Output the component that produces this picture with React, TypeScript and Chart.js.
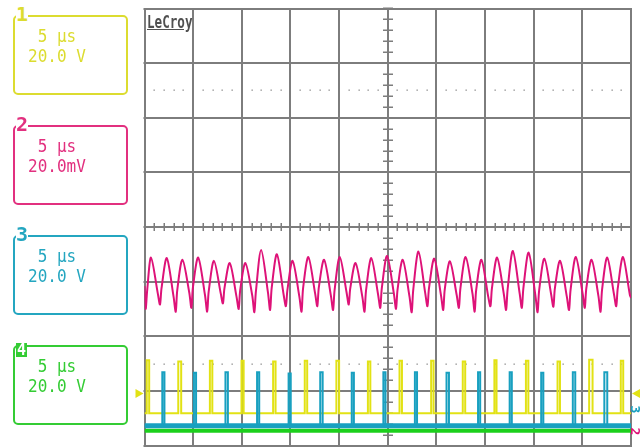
import React, { useEffect, useRef } from "react";
import { Chart, registerables } from "chart.js";
Chart.register(...registerables);

// ---- axes (time in µs, 5 µs/div; vertical in divisions) ----
const timeMin = 0;
const timeMax = 50;
const divMin = -4;
const divMax = 4;
const gridTimes = [0, 5, 10, 15, 20, 25, 30, 35, 40, 45, 50];
const gridDivs = [-4, -3, -2, -1, 0, 1, 2, 3, 4];
const centerTime = 25;
const centerDiv = 0;
const dottedLevels = [2.5, -2.5];

// ---- channel 2 (magenta) vertices ----
const ch2T = [
  0, 0.12, 0.28,
  0.67, 1.37, 1.59, 1.75,
  2.29, 2.99, 3.21, 3.37,
  3.9, 4.6, 4.82, 4.98,
  5.52, 6.22, 6.44, 6.6,
  7.14, 7.84, 8.06, 8.22,
  8.76, 9.46, 9.68, 9.84,
  10.37, 11.07, 11.29, 11.45,
  11.99, 12.69, 12.91, 13.07,
  13.61, 14.31, 14.53, 14.69,
  15.22, 15.92, 16.14, 16.3,
  16.84, 17.54, 17.76, 17.92,
  18.46, 19.16, 19.38, 19.54,
  20.07, 20.77, 20.99, 21.15,
  21.69, 22.39, 22.61, 22.77,
  23.31, 24.01, 24.23, 24.39,
  24.93, 25.63, 25.85, 26.01,
  26.54, 27.24, 27.46, 27.62,
  28.16, 28.86, 29.08, 29.24,
  29.78, 30.48, 30.7, 30.86,
  31.39, 32.09, 32.31, 32.47,
  33.01, 33.71, 33.93, 34.09,
  34.63, 35.33, 35.55, 35.71,
  36.24, 36.94, 37.16, 37.32,
  37.86, 38.56, 38.78, 38.94,
  39.48, 40.18, 40.4, 40.56,
  41.1, 41.8, 42.02, 42.18,
  42.71, 43.41, 43.63, 43.79,
  44.33, 45.03, 45.25, 45.41,
  45.95, 46.65, 46.87, 47.03,
  47.56, 48.26, 48.48, 48.64,
  49.18, 49.88, 50,
];
const ch2V = [
  -1.08, -1.5, -1.15,
  -0.56, -1.22, -1.42, -1.12,
  -0.57, -1.28, -1.55, -1.15,
  -0.6, -1.2, -1.48, -1.1,
  -0.56, -1.25, -1.55, -1.18,
  -0.62, -1.22, -1.4, -1.12,
  -0.66, -1.28, -1.5, -1.15,
  -0.66, -1.25, -1.56, -1.18,
  -0.42, -1.2, -1.52, -1.12,
  -0.5, -1.25, -1.45, -1.15,
  -0.62, -1.28, -1.55, -1.12,
  -0.55, -1.22, -1.45, -1.1,
  -0.6, -1.26, -1.52, -1.15,
  -0.55, -1.2, -1.42, -1.12,
  -0.66, -1.28, -1.55, -1.16,
  -0.57, -1.24, -1.48, -1.12,
  -0.53, -1.22, -1.5, -1.14,
  -0.6, -1.28, -1.56, -1.15,
  -0.45, -1.22, -1.45, -1.12,
  -0.58, -1.26, -1.52, -1.14,
  -0.63, -1.25, -1.48, -1.12,
  -0.55, -1.22, -1.55, -1.15,
  -0.6, -1.28, -1.45, -1.12,
  -0.56, -1.24, -1.52, -1.14,
  -0.44, -1.22, -1.48, -1.12,
  -0.47, -1.26, -1.56, -1.16,
  -0.58, -1.24, -1.46, -1.12,
  -0.62, -1.28, -1.52, -1.15,
  -0.55, -1.22, -1.48, -1.12,
  -0.6, -1.26, -1.55, -1.14,
  -0.56, -1.24, -1.45, -1.12,
  -0.55, -1.24, -1.3,
];

// ---- channel 1 (yellow) pulses ----
const ch1PulseT = [0.23, 3.47, 6.72, 9.97, 13.22, 16.47, 19.72, 22.96, 26.21, 29.46, 32.71, 35.96, 39.2, 42.45, 45.7, 48.95];
const ch1PulseTop = [-2.44, -2.46, -2.45, -2.45, -2.46, -2.45, -2.45, -2.46, -2.45, -2.45, -2.46, -2.44, -2.45, -2.46, -2.43, -2.45];
const ch1PulseW = [0.25, 0.3, 0.25, 0.22, 0.25, 0.25, 0.28, 0.25, 0.25, 0.25, 0.25, 0.22, 0.25, 0.25, 0.35, 0.25];
const ch1Base = -3.41;

// ---- channel 3 (teal) pulses ----
const ch3PulseT = [1.83, 5.08, 8.32, 11.57, 14.81, 18.06, 21.3, 24.55, 27.79, 31.04, 34.28, 37.53, 40.77, 44.02, 47.26];
const ch3PulseTop = [-2.66, -2.67, -2.66, -2.66, -2.68, -2.66, -2.67, -2.66, -2.66, -2.67, -2.66, -2.66, -2.67, -2.66, -2.66];
const ch3PulseW = [0.22, 0.22, 0.25, 0.22, 0.22, 0.25, 0.22, 0.22, 0.22, 0.25, 0.22, 0.22, 0.22, 0.25, 0.3];
const ch3Base = -3.64;

// ---- channel 4 (green) ----
const ch4Level = -3.73;

// ---- markers ----
const ch1MarkerDiv = -3.05;

// ---- panel texts ----
const channelIds = ["1", "2", "3", "4"];
const channelTimeDiv = [" 5 µs", " 5 µs", " 5 µs", " 5 µs"];
const channelVoltDiv = ["20.0 V", "20.0mV", "20.0 V", "20.0 V"];
const panelColors = ["#dcdc30", "#e2307f", "#24a6c0", "#34cc34"];

const yellow = "rgb(226,226,20)";
const magenta = "rgb(222,18,120)";
const teal = "rgb(24,160,192)";
const green = "rgb(28,208,28)";

function pulsePoints(times: number[], tops: number[], widths: number[], base: number) {
  const pts: { x: number; y: number }[] = [{ x: timeMin, y: base }];
  times.forEach((t, i) => {
    pts.push({ x: t, y: base });
    pts.push({ x: t, y: tops[i] });
    pts.push({ x: t + widths[i], y: tops[i] });
    pts.push({ x: t + widths[i], y: base });
  });
  pts.push({ x: timeMax, y: base });
  return pts;
}

const gridPlugin = {
  id: "scopeGrid",
  beforeDatasetsDraw(chart: any) {
    const { ctx, chartArea, scales } = chart;
    const xs = scales.x;
    const ys = scales.y;
    ctx.save();
    ctx.strokeStyle = "#7d7d7d";
    ctx.lineWidth = 2;
    ctx.beginPath();
    for (const t of gridTimes) {
      const px = Math.round(xs.getPixelForValue(t));
      ctx.moveTo(px, chartArea.top);
      ctx.lineTo(px, chartArea.bottom);
    }
    for (const d of gridDivs) {
      const py = Math.round(ys.getPixelForValue(d));
      ctx.moveTo(chartArea.left - 1, py);
      ctx.lineTo(chartArea.right + 1, py);
    }
    ctx.stroke();

    // centre cross ticks
    const cx = Math.round(xs.getPixelForValue(centerTime));
    const cy = Math.round(ys.getPixelForValue(centerDiv));
    ctx.lineWidth = 1.5;
    ctx.beginPath();
    for (let d = divMin; d <= divMax + 1e-6; d += 0.2) {
      const py = Math.round(ys.getPixelForValue(d)) + 0.25;
      ctx.moveTo(cx - 5, py);
      ctx.lineTo(cx + 5, py);
    }
    for (let t = timeMin; t <= timeMax + 1e-6; t += 1) {
      const px = Math.round(xs.getPixelForValue(t)) + 0.25;
      ctx.moveTo(px, cy - 4);
      ctx.lineTo(px, cy + 4);
    }
    ctx.stroke();

    // dotted levels
    ctx.fillStyle = "#8a8a8a";
    for (const lv of dottedLevels) {
      const py = Math.round(ys.getPixelForValue(lv));
      for (let t = timeMin + 1; t < timeMax; t += 1) {
        if (Math.abs(t / 5 - Math.round(t / 5)) < 1e-6) continue;
        const px = Math.round(xs.getPixelForValue(t));
        ctx.fillRect(px - 0.5, py - 0.5, 1.3, 1.3);
      }
    }
    ctx.restore();
  },
  afterDatasetsDraw(chart: any) {
    const { ctx, chartArea, scales } = chart;
    const py = scales.y.getPixelForValue(ch1MarkerDiv);
    ctx.save();
    ctx.fillStyle = yellow;
    ctx.beginPath();
    ctx.moveTo(chartArea.left - 9, py - 4.5);
    ctx.lineTo(chartArea.left - 1, py);
    ctx.lineTo(chartArea.left - 9, py + 4.5);
    ctx.closePath();
    ctx.fill();
    ctx.beginPath();
    ctx.moveTo(chartArea.right + 9, py - 4.5);
    ctx.lineTo(chartArea.right + 1, py);
    ctx.lineTo(chartArea.right + 9, py + 4.5);
    ctx.closePath();
    ctx.fill();
    ctx.restore();
  },
};

export default function App() {
  const canvasRef = useRef<HTMLCanvasElement | null>(null);

  useEffect(() => {
    const canvas = canvasRef.current;
    if (!canvas) return;
    const ch2 = ch2T.map((t, i) => ({ x: t, y: ch2V[i] }));
    const ch1 = pulsePoints(ch1PulseT, ch1PulseTop, ch1PulseW, ch1Base);
    const ch3 = pulsePoints(ch3PulseT, ch3PulseTop, ch3PulseW, ch3Base);
    const ch4 = [{ x: timeMin, y: ch4Level }, { x: timeMax, y: ch4Level }];
    const ch3Band = [{ x: timeMin, y: ch3Base }, { x: timeMax, y: ch3Base }];

    const chart = new Chart(canvas, {
      type: "line",
      data: {
        datasets: [
          { label: "C3", data: ch3, borderColor: teal, borderWidth: 2, order: 1, tension: 0 },
          { label: "C3 band", data: ch3Band, borderColor: teal, borderWidth: 5, order: 2, tension: 0 },
          { label: "C1", data: ch1, borderColor: yellow, borderWidth: 2, order: 3, tension: 0 },
          { label: "C4", data: ch4, borderColor: green, borderWidth: 4, order: 4, tension: 0 },
          { label: "C2", data: ch2, borderColor: magenta, borderWidth: 2, order: 5, tension: 0.3, borderJoinStyle: "round" },
        ] as any,
      },
      options: {
        animation: false,
        responsive: false,
        maintainAspectRatio: false,
        devicePixelRatio: 1,
        layout: { padding: { left: 144.5, right: 12, top: 8.5, bottom: 1.5 } },
        elements: { point: { radius: 0 }, line: { borderJoinStyle: "miter" } },
        plugins: { legend: { display: false }, tooltip: { enabled: false }, title: { display: false } },
        scales: {
          x: { type: "linear", min: timeMin, max: timeMax, display: false },
          y: { type: "linear", min: divMin, max: divMax, display: false },
        },
      } as any,
      plugins: [gridPlugin],
    });
    return () => chart.destroy();
  }, []);

  const mono = "'DejaVu Sans Mono', monospace";

  return (
    <div style={{ position: "absolute", left: 0, top: 0, width: 643, height: 447, background: "#fff", overflow: "hidden" }}>
      <canvas ref={canvasRef} width={643} height={447} style={{ position: "absolute", left: 0, top: 0, width: 643, height: 447 }} />
      {channelIds.map((id, i) => {
        const top = 15 + 110 * i;
        const c = panelColors[i];
        const inverse = i === 3;
        return (
          <React.Fragment key={id}>
            <div style={{ position: "absolute", left: 13, top, width: 111, height: 76, border: `2px solid ${c}`, borderRadius: 5 }} />
            <div
              style={{
                position: "absolute",
                left: 16,
                top: inverse ? top - 2 : top - 10,
                height: inverse ? 14 : 18,
                width: inverse ? 11 : 12,
                background: inverse ? c : "#fff",
                color: inverse ? "#fff" : c,
                font: inverse ? `bold 15px ${mono}` : `bold 20px ${mono}`,
                lineHeight: inverse ? "14px" : "18px",
                textAlign: "center",
                overflow: "hidden",
              }}
            >
              {id}
            </div>
            <div style={{ position: "absolute", left: 28, top: top + 10, color: c, font: `16px ${mono}`, lineHeight: "19px", whiteSpace: "pre", transform: "scaleY(1.1)", transformOrigin: "0 0" }}>
              {channelTimeDiv[i]}
              {"\n"}
              {channelVoltDiv[i]}
            </div>
          </React.Fragment>
        );
      })}
      <div style={{ position: "absolute", left: 147, top: 13, color: "#505050", font: `bold 18px ${mono}`, lineHeight: "18px", transform: "scaleX(0.7)", transformOrigin: "0 0" }}>
        LeCroy
      </div>
      <div style={{ position: "absolute", left: 147, top: 28.5, width: 37, height: 1.6, background: "#505050" }} />
      <div style={{ position: "absolute", left: 632, top: 402, color: teal, font: `bold 13px ${mono}`, transform: "rotate(90deg)" }}>3</div>
      <div style={{ position: "absolute", left: 632, top: 424, color: magenta, font: `bold 13px ${mono}`, transform: "rotate(90deg)" }}>2</div>
    </div>
  );
}
